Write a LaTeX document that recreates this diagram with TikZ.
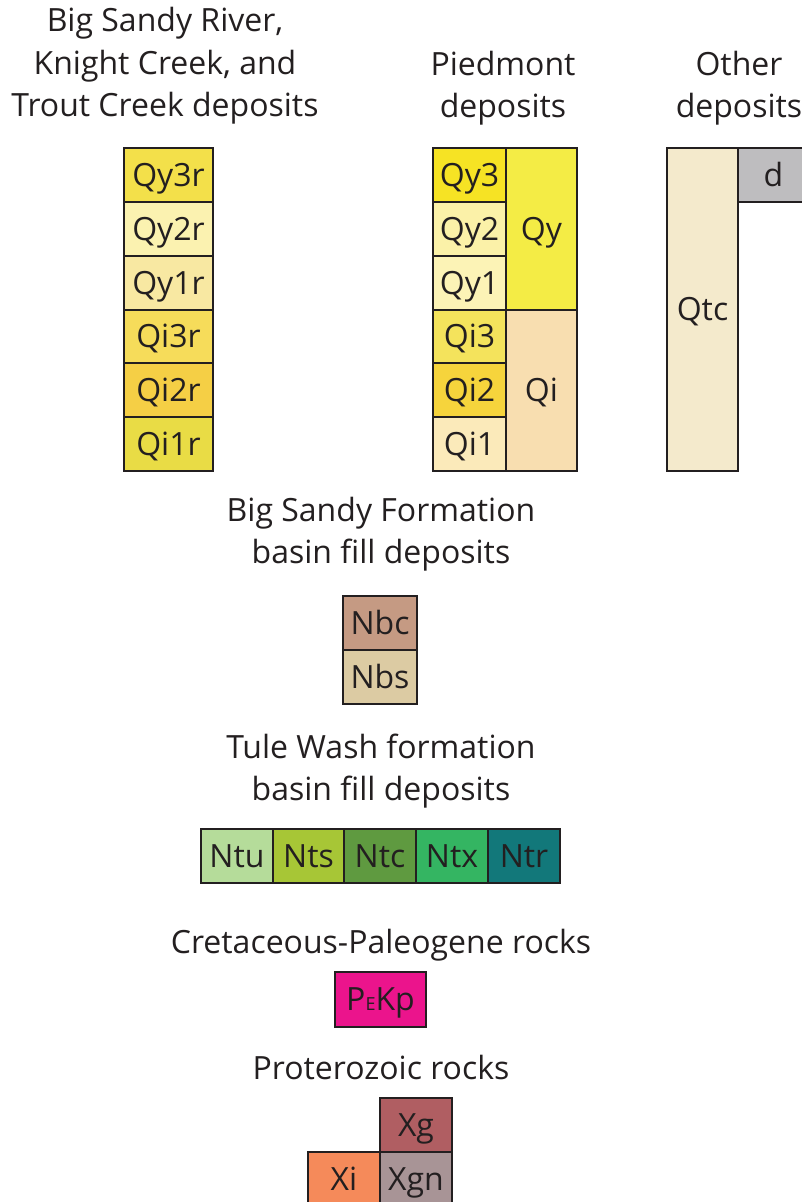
\documentclass[tikz,border=0pt]{standalone}
\usepackage{fontspec}
\setmainfont{Open Sans}
\definecolor{lc}{HTML}{231F20}
\definecolor{cQyiiir}{HTML}{F3E04A}
\definecolor{cQyiir}{HTML}{FBF2B0}
\definecolor{cQyir}{HTML}{F8E8A2}
\definecolor{cQiiiir}{HTML}{F6DC5A}
\definecolor{cQiiir}{HTML}{F5CF45}
\definecolor{cQiir}{HTML}{E9DC45}
\definecolor{cQyiii}{HTML}{F6E324}
\definecolor{cQyii}{HTML}{FBF1A8}
\definecolor{cQyi}{HTML}{FCF3B6}
\definecolor{cQiiii}{HTML}{F4E35C}
\definecolor{cQiii}{HTML}{F6D43C}
\definecolor{cQii}{HTML}{FBEABA}
\definecolor{cQy}{HTML}{F4EC45}
\definecolor{cQi}{HTML}{F8DEB0}
\definecolor{cQtc}{HTML}{F4EACC}
\definecolor{cd}{HTML}{BEBDBF}
\definecolor{cNbc}{HTML}{C59A83}
\definecolor{cNbs}{HTML}{DCCBA3}
\definecolor{cNtu}{HTML}{B5DC9A}
\definecolor{cNts}{HTML}{A7C636}
\definecolor{cNtc}{HTML}{5F9A40}
\definecolor{cNtx}{HTML}{34B562}
\definecolor{cNtr}{HTML}{12787A}
\definecolor{cPEKp}{HTML}{EB148C}
\definecolor{cXg}{HTML}{B05E62}
\definecolor{cXi}{HTML}{F58A5A}
\definecolor{cXgn}{HTML}{A89496}
\tikzset{
  unit/.style={draw=lc, line width=1.5pt, inner sep=0pt, text=lc,
    font=\fontsize{32}{38}\selectfont, text height=22.8pt, text depth=0pt},
  ttl/.style={anchor=base, inner sep=0pt, text=lc, font=\fontsize{32}{38}\selectfont}
}
\newcommand\geobox[7]{%
  \node[unit, fill=#6, minimum width={#4-#2}, minimum height={#5-#3}]
    (#1) at ({(#2+#4)/2},{(#3+#5)/2}) {#7};}
\begin{document}
\begin{tikzpicture}[x=1pt,y=-1pt]
\useasboundingbox (0,0) rectangle (801,1202);
% titles
\node[ttl] (t1a) at (165,31.5) {Big Sandy River,};
\node[ttl] (t1b) at (165,74) {Knight Creek, and};
\node[ttl] (t1c) at (165,116.5) {Trout Creek deposits};
\node[ttl] (t2a) at (503,75) {Piedmont};
\node[ttl] (t2b) at (503,117) {deposits};
\node[ttl] (t3a) at (739,75) {Other};
\node[ttl] (t3b) at (739,117) {deposits};
\node[ttl] (t4a) at (381,521) {Big Sandy Formation};
\node[ttl] (t4b) at (381,563) {basin fill deposits};
\node[ttl] (t5a) at (381,758) {Tule Wash formation};
\node[ttl] (t5b) at (381,800) {basin fill deposits};
\node[ttl] (t6) at (381,953) {Cretaceous-Paleogene rocks};
\node[ttl] (t7) at (381,1079) {Proterozoic rocks};
% column 1
\geobox{qy3r}{124}{148}{213}{202}{cQyiiir}{Qy3r}
\geobox{qy2r}{124}{202}{213}{256}{cQyiir}{Qy2r}
\geobox{qy1r}{124}{256}{213}{310}{cQyir}{Qy1r}
\geobox{qi3r}{124}{310}{213}{363}{cQiiiir}{Qi3r}
\geobox{qi2r}{124}{363}{213}{417}{cQiiir}{Qi2r}
\geobox{qi1r}{124}{417}{213}{471}{cQiir}{Qi1r}
% column 2
\geobox{qy}{506}{148}{577}{310}{cQy}{Qy}
\geobox{qi}{506}{310}{577}{471}{cQi}{Qi}
\geobox{qy3}{433}{148}{506}{202}{cQyiii}{Qy3}
\geobox{qy2}{433}{202}{506}{256}{cQyii}{Qy2}
\geobox{qy1}{433}{256}{506}{310}{cQyi}{Qy1}
\geobox{qi3}{433}{310}{506}{363}{cQiiii}{Qi3}
\geobox{qi2}{433}{363}{506}{417}{cQiii}{Qi2}
\geobox{qi1}{433}{417}{506}{471}{cQii}{Qi1}
% column 3
\geobox{qtc}{667}{148}{738}{471}{cQtc}{Qtc}
\geobox{d}{738}{148}{809}{202}{cd}{d}
% Big Sandy Formation
\geobox{nbc}{343}{596}{417}{650}{cNbc}{Nbc}
\geobox{nbs}{343}{650}{417}{704}{cNbs}{Nbs}
% Tule Wash
\geobox{ntu}{201}{829}{273}{883}{cNtu}{Ntu}
\geobox{nts}{273}{829}{344}{883}{cNts}{Nts}
\geobox{ntc}{344}{829}{416}{883}{cNtc}{Ntc}
\geobox{ntx}{416}{829}{488}{883}{cNtx}{Ntx}
\geobox{ntr}{488}{829}{560}{883}{cNtr}{Ntr}
% Cretaceous-Paleogene
\geobox{pekp}{335}{972}{426}{1027}{cPEKp}{P{\fontsize{18}{18}\selectfont E}Kp}
% Proterozoic
\geobox{xg}{380}{1098}{452}{1152}{cXg}{Xg}
\geobox{xi}{308}{1152}{380}{1206}{cXi}{Xi}
\geobox{xgn}{380}{1152}{452}{1206}{cXgn}{Xgn}
\end{tikzpicture}
\end{document}
